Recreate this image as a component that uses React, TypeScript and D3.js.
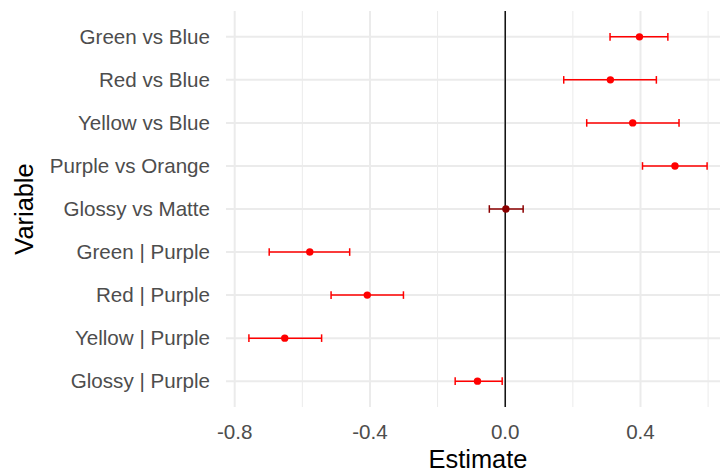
import React from "react";
import * as d3 from "d3";

const categories = [
  "Green vs Blue",
  "Red vs Blue",
  "Yellow vs Blue",
  "Purple vs Orange",
  "Glossy vs Matte",
  "Green | Purple",
  "Red | Purple",
  "Yellow | Purple",
  "Glossy | Purple",
];
const estimates = [0.397, 0.311, 0.377, 0.502, 0.002, -0.578, -0.408, -0.652, -0.082];
const lowers = [0.310, 0.173, 0.241, 0.406, -0.047, -0.698, -0.515, -0.758, -0.148];
const uppers = [0.481, 0.447, 0.514, 0.597, 0.053, -0.460, -0.301, -0.543, -0.009];
const significant = [true, true, true, true, false, true, true, true, true];
const xTicks = [-0.8, -0.4, 0.0, 0.4];
const xTickLabels = ["-0.8", "-0.4", "0.0", "0.4"];
const xMinor = [-0.6, -0.2, 0.2, 0.6];

const W = 720;
const H = 472;
const panel = { left: 226, right: 730, top: 11, bottom: 407 };

export default function App() {
  const lo = d3.min(lowers) as number;
  const hi = d3.max(uppers) as number;
  const pad = (hi - lo) * 0.05;
  const x = d3.scaleLinear().domain([lo - pad, hi + pad]).range([panel.left, panel.right]);
  const y = d3
    .scalePoint<string>()
    .domain(categories)
    .range([panel.top, panel.bottom])
    .padding(0.6);

  const font = "Liberation Sans, Arial, sans-serif";
  const grid = "#EBEBEB";

  return (
    <svg
      width={W}
      height={H}
      style={{ position: "absolute", left: 0, top: 0, background: "#fff" }}
      fontFamily={font}
    >
      <defs>
        <clipPath id="pc">
          <rect x={panel.left} y={panel.top} width={W - panel.left} height={panel.bottom - panel.top} />
        </clipPath>
      </defs>
      <g clipPath="url(#pc)">
        {xMinor.map((v) => (
          <line key={"m" + v} x1={x(v)} x2={x(v)} y1={panel.top} y2={panel.bottom} stroke={grid} strokeWidth={1} />
        ))}
        {xTicks.map((v) => (
          <line key={"M" + v} x1={x(v)} x2={x(v)} y1={panel.top} y2={panel.bottom} stroke={grid} strokeWidth={2} />
        ))}
        {categories.map((c) => (
          <line key={"h" + c} x1={panel.left} x2={panel.right} y1={y(c)} y2={y(c)} stroke={grid} strokeWidth={2} />
        ))}
        <line x1={x(0)} x2={x(0)} y1={panel.top} y2={panel.bottom} stroke="#000" strokeWidth={1.4} />
        {categories.map((c, i) => {
          const col = significant[i] ? "#FF0000" : "#8B0000";
          const yy = y(c) as number;
          return (
            <g key={"e" + c} stroke={col} strokeWidth={1.5}>
              <line x1={x(lowers[i])} x2={x(uppers[i])} y1={yy} y2={yy} />
              <line x1={x(lowers[i])} x2={x(lowers[i])} y1={yy - 3.8} y2={yy + 3.8} />
              <line x1={x(uppers[i])} x2={x(uppers[i])} y1={yy - 3.8} y2={yy + 3.8} />
              <circle cx={x(estimates[i])} cy={yy} r={3.7} fill={col} stroke="none" />
            </g>
          );
        })}
      </g>
      {categories.map((c) => (
        <text
          key={"yl" + c}
          x={210}
          y={(y(c) as number) + 7.3}
          textAnchor="end"
          fontSize={20.6}
          fill="#4D4D4D"
        >
          {c}
        </text>
      ))}
      {xTicks.map((v, i) => (
        <text key={"xl" + v} x={x(v)} y={439} textAnchor="middle" fontSize={20.6} fill="#4D4D4D">
          {xTickLabels[i]}
        </text>
      ))}
      <text x={(panel.left + panel.right) / 2} y={468} textAnchor="middle" fontSize={25.4} fill="#000">
        Estimate
      </text>
      <text
        transform={`translate(33,${(panel.top + panel.bottom) / 2}) rotate(-90)`}
        textAnchor="middle"
        fontSize={25.4}
        fill="#000"
      >
        Variable
      </text>
    </svg>
  );
}
